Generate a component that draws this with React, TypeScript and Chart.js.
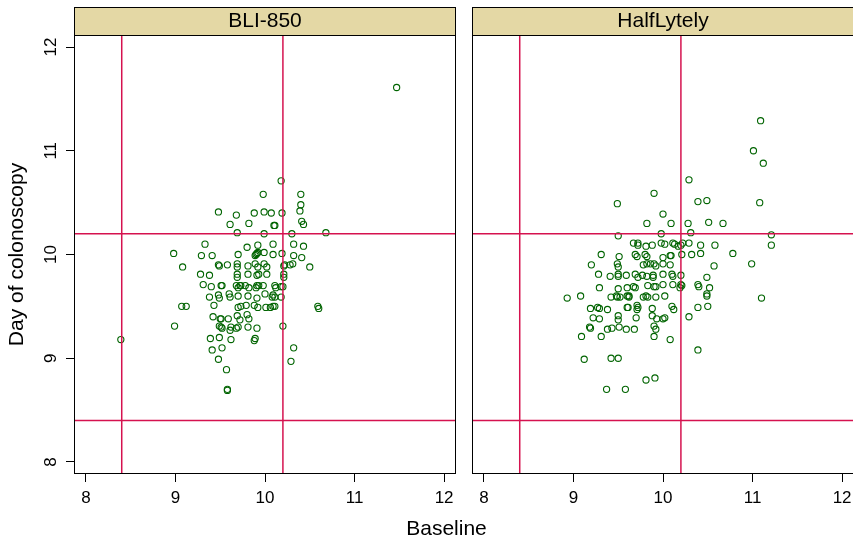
import React, { useEffect, useRef } from 'react';
import { Chart, registerables } from 'chart.js';

Chart.register(...registerables);
Chart.defaults.font.family = '"Liberation Sans", Arial, Helvetica, sans-serif';

// ---------------- data ----------------
const panelNames = ['BLI-850', 'HalfLytely'];
const xTickValues = [8, 9, 10, 11, 12];
const yTickValues = [8, 9, 10, 11, 12];
const refLineValues = [8.4, 10.2];
const xLimits = [7.867, 12.133];
const yLimits = [7.884, 12.116];
const xAxisTitle = 'Baseline';
const yAxisTitle = 'Day of colonoscopy';

const bliBaseline = [
  10.18, 9.98, 10.40, 10.40, 9.48, 9.68, 9.88, 9.99, 10.07, 10.19, 10.39, 9.61, 9.82, 10.10, 10.11, 10.41, 10.43,
  9.69, 9.99, 10.30, 10.68, 9.33, 8.98, 9.29, 9.41, 9.70, 9.80, 9.92, 10.09, 10.32, 10.43, 9.91, 9.90, 9.92, 9.89,
  9.99, 10.09, 10.19, 10.32, 10.41, 9.08, 9.48, 9.49, 9.58, 9.69, 9.69, 9.81, 9.89, 9.92, 9.99, 10.02, 10.21, 10.22,
  10.31, 10.28, 10.50, 9.28, 9.38, 9.69, 9.81, 9.91, 9.93, 10.02, 10.21, 9.69, 10.21, 9.31, 9.40, 9.51, 9.52, 9.68,
  9.72, 9.73, 9.70, 9.78, 9.82, 9.91, 9.90, 9.93, 9.98, 10.11, 10.12, 10.18, 10.20, 9.38, 9.48, 9.49, 9.60, 9.61,
  9.70, 9.81, 9.91, 10.00, 10.09, 10.11, 10.08, 10.18, 9.07, 9.12, 9.43, 9.70, 9.73, 9.79, 9.88, 9.92, 10.01, 10.06,
  10.09, 10.11, 10.59, 10.60, 9.42, 9.50, 9.51, 9.59, 9.69, 9.72, 9.80, 9.82, 8.99, 9.49, 9.52, 9.51, 9.62, 9.61,
  9.68, 9.70, 9.81, 9.91, 10.20, 9.39, 9.49, 9.62, 9.88, 9.89, 10.32, 9.41, 9.52, 10.29, 9.48, 9.57, 9.58, 9.58,
  11.47, 8.39,
];
const bliDay = [
  10.71, 10.58, 10.58, 10.48, 10.41, 10.38, 10.40, 10.41, 10.40, 10.40, 10.42, 10.29, 10.30, 10.28, 10.28, 10.32, 10.29,
  10.21, 10.20, 10.20, 10.21, 10.10, 10.01, 9.99, 9.99, 10.00, 10.07, 10.09, 10.10, 10.10, 10.08, 10.01, 10.00, 10.02, 9.99,
  10.02, 10.00, 10.01, 9.99, 9.97, 9.88, 9.90, 9.89, 9.90, 9.91, 9.88, 9.89, 9.91, 9.88, 9.91, 9.88, 9.89, 9.90,
  9.91, 9.90, 9.88, 9.81, 9.80, 9.81, 9.81, 9.80, 9.81, 9.81, 9.81, 9.78, 9.78, 9.71, 9.69, 9.70, 9.70, 9.70,
  9.70, 9.70, 9.68, 9.70, 9.68, 9.70, 9.68, 9.70, 9.70, 9.70, 9.68, 9.69, 9.69, 9.59, 9.61, 9.58, 9.62, 9.59,
  9.60, 9.60, 9.58, 9.62, 9.61, 9.59, 9.59, 9.59, 9.50, 9.50, 9.51, 9.49, 9.50, 9.51, 9.51, 9.49, 9.49, 9.49,
  9.50, 9.50, 9.50, 9.48, 9.40, 9.38, 9.38, 9.38, 9.41, 9.37, 9.42, 9.38, 9.31, 9.31, 9.29, 9.30, 9.30, 9.27,
  9.29, 9.30, 9.30, 9.29, 9.31, 9.19, 9.20, 9.18, 9.17, 9.19, 9.10, 9.08, 9.10, 8.97, 8.99, 8.89, 8.69, 8.70,
  11.61, 9.18,
];

const halfBaseline = [
  10.29, 9.90, 9.49, 10.00, 9.82, 10.09, 10.28, 9.50, 9.98, 9.67, 9.72, 9.72, 9.81, 9.88, 9.98, 10.02, 10.11, 10.13,
  10.17, 10.20, 10.22, 9.31, 9.51, 9.69, 9.71, 9.80, 9.82, 10.00, 10.08, 10.09, 10.21, 9.20, 9.49, 9.50, 9.78, 9.82,
  9.86, 9.90, 9.92, 10.00, 10.08, 9.28, 9.41, 9.50, 9.50, 9.59, 9.69, 9.72, 9.77, 9.82, 9.89, 9.89, 10.00, 10.10,
  10.11, 10.20, 9.29, 9.50, 9.60, 9.67, 9.69, 9.83, 9.90, 9.92, 10.00, 10.11, 10.20, 10.21, 10.19, 8.93, 9.08, 9.42,
  9.48, 9.49, 9.52, 9.60, 9.62, 9.62, 9.78, 9.81, 9.83, 9.92, 10.02, 9.19, 9.27, 9.29, 9.38, 9.60, 9.61, 9.71,
  9.72, 9.71, 9.88, 10.10, 10.12, 10.29, 9.22, 9.29, 9.50, 9.50, 9.70, 9.88, 9.93, 10.00, 10.02, 9.18, 9.19, 9.38,
  9.43, 9.51, 9.59, 9.68, 9.90, 9.92, 9.09, 9.31, 9.90, 10.08, 9.12, 9.42, 9.50, 9.81, 9.91, 9.37, 9.58, 11.09,
  11.01, 11.12, 10.39, 10.49, 11.08, 10.51, 10.67, 10.31, 11.21, 11.21, 10.29, 10.42, 10.58, 10.32, 10.42, 10.78,
  10.99, 10.57, 10.49, 10.39, 10.40, 10.52, 11.10, 10.49, 10.49, 10.39, 10.50, 10.39,
];
const halfDay = [
  10.72, 10.59, 10.49, 10.39, 10.30, 10.30, 10.30, 10.18, 10.20, 10.11, 10.11, 10.09, 10.08, 10.09, 10.11, 10.10, 10.11, 10.10,
  10.08, 10.09, 10.11, 10.00, 9.98, 10.00, 9.98, 10.00, 9.98, 9.97, 9.99, 9.99, 10.00, 9.90, 9.91, 9.88, 9.90, 9.91,
  9.91, 9.91, 9.89, 9.91, 9.90, 9.81, 9.79, 9.81, 9.79, 9.80, 9.81, 9.78, 9.80, 9.79, 9.80, 9.78, 9.81, 9.81,
  9.79, 9.80, 9.68, 9.67, 9.68, 9.69, 9.68, 9.70, 9.69, 9.69, 9.71, 9.71, 9.71, 9.70, 9.68, 9.58, 9.60, 9.59,
  9.60, 9.59, 9.59, 9.60, 9.60, 9.59, 9.59, 9.60, 9.59, 9.59, 9.60, 9.48, 9.49, 9.48, 9.47, 9.49, 9.49, 9.51,
  9.49, 9.47, 9.48, 9.50, 9.47, 9.40, 9.39, 9.38, 9.41, 9.37, 9.39, 9.41, 9.38, 9.38, 9.39, 9.30, 9.29, 9.28,
  9.29, 9.30, 9.28, 9.28, 9.31, 9.28, 9.21, 9.21, 9.21, 9.18, 8.99, 9.00, 9.00, 8.79, 8.81, 8.70, 8.70, 11.29,
  11.00, 10.88, 10.51, 10.52, 10.50, 10.31, 10.30, 10.21, 10.19, 10.09, 10.11, 10.09, 10.09, 10.00, 10.01, 10.01,
  9.91, 9.89, 9.78, 9.71, 9.69, 9.68, 9.58, 9.62, 9.60, 9.49, 9.50, 9.08,
];

// ---------------- styles ----------------
const POINT_COLOR = '#006400';
const REF_COLOR = '#d5124f';
const STRIP_COLOR = '#e4d8a5';
const FONT = '"Liberation Sans", Arial, Helvetica, sans-serif';

const panelFrame = {
  id: 'panelFrame',
  afterDatasetsDraw(chart: any, _args: any, opts: any) {
    const { ctx, chartArea } = chart;
    const l = Math.round(chartArea.left) + 0.5;
    const r = Math.round(chartArea.right) - 0.5;
    const t = Math.round(chartArea.top) + 0.5;
    const b = Math.round(chartArea.bottom) - 0.5;
    const stripH = 28;
    ctx.save();
    ctx.fillStyle = STRIP_COLOR;
    ctx.fillRect(l, t - stripH, r - l, stripH);
    ctx.strokeStyle = '#000';
    ctx.lineWidth = 1;
    ctx.strokeRect(l, t - stripH, r - l, stripH);
    ctx.strokeRect(l, t, r - l, b - t);
    ctx.fillStyle = '#000';
    ctx.font = `21px ${FONT}`;
    ctx.textAlign = 'center';
    ctx.textBaseline = 'alphabetic';
    ctx.fillText(opts.title, (chartArea.left + chartArea.right) / 2, chartArea.top - 8.3);
    ctx.restore();
  },
};

function Panel(props: { left: number; width: number; title: string; xs: number[]; ys: number[]; showY: boolean }) {
  const ref = useRef<HTMLCanvasElement>(null);
  useEffect(() => {
    const { title, xs, ys, showY } = props;
    const points = xs.map((x, i) => ({ x, y: ys[i] }));
    const refStyle = {
      showLine: true,
      borderColor: REF_COLOR,
      borderWidth: 1.5,
      pointRadius: 0,
      fill: false,
    };
    const datasets: any[] = [
      ...refLineValues.map((v) => ({ ...refStyle, data: [{ x: v, y: yLimits[0] }, { x: v, y: yLimits[1] }] })),
      ...refLineValues.map((v) => ({ ...refStyle, data: [{ x: xLimits[0], y: v }, { x: xLimits[1], y: v }] })),
      {
        data: points,
        pointStyle: 'circle',
        pointRadius: 3.1,
        pointBorderWidth: 1.1,
        borderColor: POINT_COLOR,
        pointBorderColor: POINT_COLOR,
        backgroundColor: 'rgba(0,0,0,0)',
        pointBackgroundColor: 'rgba(0,0,0,0)',
        showLine: false,
      },
    ];
    const tickGrid = {
      display: true,
      drawOnChartArea: false,
      drawTicks: true,
      tickLength: 8,
      color: '#000',
      lineWidth: 1,
    };
    const chart = new Chart(ref.current as HTMLCanvasElement, {
      type: 'scatter',
      data: { datasets },
      plugins: [panelFrame],
      options: {
        animation: false,
        responsive: false,
        events: [],
        layout: { padding: { top: 35, left: showY ? 0 : 8, right: 8, bottom: 0 } },
        plugins: {
          legend: { display: false },
          tooltip: { enabled: false },
          panelFrame: { title },
        } as any,
        scales: {
          x: {
            type: 'linear',
            min: xLimits[0],
            max: xLimits[1],
            afterBuildTicks: (s: any) => {
              s.ticks = xTickValues.map((v) => ({ value: v }));
            },
            afterFit: (s: any) => {
              s.height = 68;
            },
            grid: tickGrid,
            border: { display: false },
            ticks: { color: '#000', font: { size: 17 }, padding: 6, maxRotation: 0, autoSkip: false },
          },
          y: {
            type: 'linear',
            display: showY,
            min: yLimits[0],
            max: yLimits[1],
            afterBuildTicks: (s: any) => {
              s.ticks = yTickValues.map((v) => ({ value: v }));
            },
            afterFit: (s: any) => {
              s.width = showY ? 74 : 0;
            },
            grid: tickGrid,
            border: { display: false },
            ticks: {
              color: '#000',
              font: { size: 17 },
              padding: 5,
              minRotation: 90,
              maxRotation: 90,
              crossAlign: 'center',
              autoSkip: false,
            },
            title: {
              display: showY,
              text: yAxisTitle,
              color: '#000',
              font: { size: 21 },
              padding: { top: 5, bottom: 0 },
            },
          },
        } as any,
      },
    });
    return () => chart.destroy();
  }, []);
  return (
    <canvas
      ref={ref}
      width={props.width}
      height={542}
      style={{ position: 'absolute', left: props.left, top: 0, width: props.width, height: 542 }}
    />
  );
}

export default function App() {
  return (
    <div
      style={{
        position: 'fixed',
        left: 0,
        top: 0,
        width: 853,
        height: 542,
        overflow: 'hidden',
        background: '#fff',
        fontFamily: FONT,
      }}
    >
      <Panel left={0} width={464} title={panelNames[0]} xs={bliBaseline} ys={bliDay} showY={true} />
      <Panel left={464} width={398} title={panelNames[1]} xs={halfBaseline} ys={halfDay} showY={false} />
      <div
        style={{
          position: 'absolute',
          left: 0,
          width: 893,
          top: 517,
          textAlign: 'center',
          fontSize: 21,
          lineHeight: '21px',
          color: '#000',
          whiteSpace: 'nowrap',
        }}
      >
        {xAxisTitle}
      </div>
    </div>
  );
}
